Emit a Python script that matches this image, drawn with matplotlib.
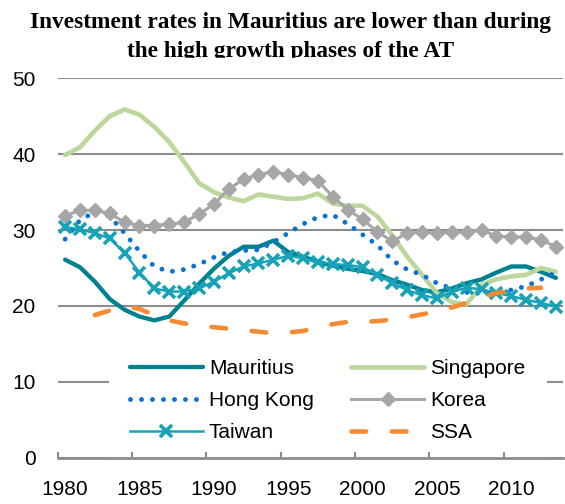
import matplotlib
matplotlib.use("Agg")
import matplotlib.pyplot as plt
from matplotlib.patches import Rectangle

YEARS = list(range(1980, 2014))
MAURITIUS = [26.1, 25.1, 23.2, 20.9, 19.5, 18.6, 18.1, 18.6, 20.7, 22.9,
             24.9, 26.6, 27.8, 27.8, 28.6, 27.1, 26.5, 25.8, 25.3, 24.9,
             24.6, 24.2, 23.4, 22.8, 22.1, 21.8, 22.3, 23.0, 23.5, 24.4,
             25.2, 25.2, 24.5, 23.7]
SINGAPORE = [39.9, 40.9, 43.1, 45.0, 45.9, 45.2, 43.6, 41.6, 39.0, 36.2,
             35.0, 34.3, 33.8, 34.7, 34.4, 34.1, 34.2, 34.8, 33.5, 33.2,
             33.2, 31.8, 29.3, 26.5, 24.1, 21.7, 20.5, 20.2, 22.8, 23.5,
             23.9, 24.1, 25.0, 24.5]
HONG_KONG = [28.8, 31.3, 32.4, 31.8, 29.6, 27.2, 25.2, 24.5, 24.8, 25.5,
             26.4, 27.1, 27.3, 27.4, 28.4, 29.6, 30.8, 31.7, 32.0, 30.8,
             29.4, 28.0, 26.0, 24.8, 24.1, 23.0, 22.3, 21.8, 21.7, 21.8,
             22.1, 22.6, 23.5, 24.4]
KOREA = [31.9, 32.6, 32.6, 32.2, 31.0, 30.6, 30.6, 30.8, 31.0, 32.1,
         33.4, 35.4, 36.7, 37.3, 37.7, 37.3, 36.9, 36.5, 34.4, 32.7,
         31.4, 29.8, 28.5, 29.6, 29.7, 29.6, 29.7, 29.7, 30.0, 29.2,
         29.1, 29.1, 28.7, 27.8]
TAIWAN = [30.4, 30.1, 29.6, 28.9, 27.0, 24.4, 22.3, 21.9, 21.9, 22.3,
          23.2, 24.3, 25.2, 25.6, 26.1, 26.6, 26.3, 25.8, 25.5, 25.4,
          25.1, 24.1, 23.0, 22.1, 21.4, 21.0, 21.9, 22.4, 22.2, 21.7,
          21.3, 20.8, 20.4, 19.9]
SSA_YEARS = list(range(1982, 2013))
SSA = [18.8, 19.4, 20.0, 19.6, 18.8, 18.1, 17.7, 17.4, 17.2, 17.0,
       16.8, 16.6, 16.4, 16.5, 16.7, 17.2, 17.6, 17.9, 17.9, 18.0,
       18.2, 18.5, 18.9, 19.3, 19.8, 20.4, 21.1, 21.7, 22.0, 22.3, 22.4]

YTICKS = [0, 10, 20, 30, 40, 50]
XLABEL_YEARS = [1980, 1985, 1990, 1995, 2000, 2005, 2010]

TITLE_1 = "Investment rates in Mauritius are lower than during"
TITLE_2 = "the high growth phases of the AT"

plt.rcParams["font.family"] = ["Liberation Sans", "DejaVu Sans"]

fig = plt.figure(figsize=(5.65, 5.04), dpi=100)
ax = fig.add_axes([0.1021, 0.0919, 0.8949, 0.7527])

GRID = "#8c8c8c"

ax.plot(YEARS, MAURITIUS, color="#00818f", lw=3.1, solid_capstyle="round",
        label="Mauritius", zorder=3)
ax.plot(YEARS, SINGAPORE, color="#bbd79b", lw=3.3, solid_capstyle="round",
        label="Singapore", zorder=3)
ax.plot(YEARS, HONG_KONG, color="#0a72d6", lw=3.5, ls=(0, (0.01, 2.25)),
        dash_capstyle="round", label="Hong Kong", zorder=3)
ax.plot(YEARS, KOREA, color="#a6a6a6", lw=2.2, marker="D", ms=7,
        mec="#a6a6a6", label="Korea", zorder=3)
ax.plot(YEARS, TAIWAN, color="#17a2b8", lw=1.8, marker="x", ms=8, mew=2.6,
        label="Taiwan", zorder=3)
ax.plot(SSA_YEARS, SSA, color="#f68b33", lw=3.3, ls=(0, (3.2, 5.6)),
        dash_capstyle="round", label="SSA", zorder=3)

ax.set_xlim(1979.5, 2013.5)
ax.set_ylim(0, 50)
ax.set_yticks(YTICKS)
ax.yaxis.grid(True, color=GRID, lw=1.5)
ax.set_axisbelow(True)
ax.tick_params(axis="y", length=0, pad=16, labelsize=15)

# ticks sit between categories, labels on the categories
ax.set_xticks([y - 0.5 for y in XLABEL_YEARS])
ax.set_xticklabels([])
ax.tick_params(axis="x", which="major", direction="in", length=4.5,
               width=1.5, color=GRID)
ax.set_xticks(XLABEL_YEARS, minor=True)
ax.set_xticklabels([str(y) for y in XLABEL_YEARS], minor=True)
ax.tick_params(axis="x", which="minor", length=0, pad=16, labelsize=15)

for s in ("left", "top", "right"):
    ax.spines[s].set_visible(False)
ax.spines["bottom"].set_color(GRID)
ax.spines["bottom"].set_linewidth(2.0)

h, l = ax.get_legend_handles_labels()
order = [0, 2, 4, 1, 3, 5]
leg = ax.legend([h[i] for i in order], [l[i] for i in order], ncol=2,
                loc="center", bbox_to_anchor=(0.58, 1 - 400.5 / 504),
                bbox_transform=fig.transFigure, fontsize=15,
                handlelength=3.5, handletextpad=0.3, columnspacing=1.8,
                labelspacing=0.62, borderpad=1.0, numpoints=1,
                frameon=True, fancybox=False)
leg.get_frame().set_facecolor("white")
leg.get_frame().set_edgecolor("none")
leg.get_frame().set_alpha(1.0)
leg.set_zorder(5)
# keep the category axis and its ticks above the legend box
ax.xaxis.set_zorder(6)
ax.spines["bottom"].set_zorder(6)

fig.text(0.514, 1 - 28 / 504, TITLE_1, ha="center", va="baseline",
         family="Liberation Serif", fontweight="bold", fontsize=16.8)
fig.text(0.514, 1 - 57.5 / 504, TITLE_2, ha="center", va="baseline",
         family="Liberation Serif", fontweight="bold", fontsize=16.8)
# the source image is cropped just under the second title line
fig.add_artist(Rectangle((0, 1 - 71 / 504), 1, 12.7 / 504,
                         transform=fig.transFigure, color="white",
                         zorder=10))

fig.savefig("out.png", dpi=100)
